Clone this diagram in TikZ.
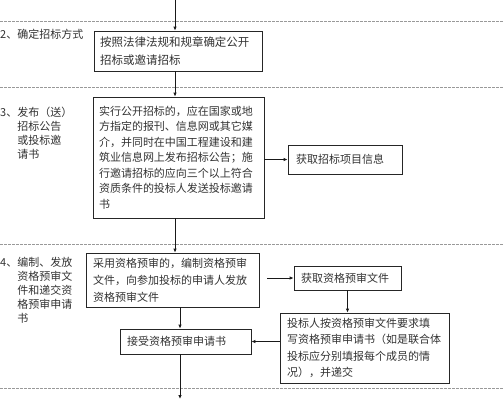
\documentclass[tikz,border=0pt]{standalone}
\usepackage{fontspec}
\newfontfamily\cjk{Noto Sans CJK SC}
\usetikzlibrary{arrows.meta}
\begin{document}
\begin{tikzpicture}[x=1pt,y=-1pt,
  box/.style={draw=black!85, line width=0.8pt, inner xsep=6pt, inner ysep=0pt,
    align=left, text=black!80, font=\cjk\fontsize{11}{15.5}\selectfont},
  lbl/.style={anchor=north west, inner sep=0pt, align=left, text=black!80,
    font=\cjk\fontsize{11}{14.2}\selectfont},
  sep/.style={draw=black!40, line width=0.6pt, dash pattern=on 3pt off 1pt},
  arr/.style={draw=black!90, line width=0.8pt, -{Latex[length=4pt,width=3.5pt]}},
  ln/.style={draw=black!90, line width=0.8pt}]
\useasboundingbox (0,0) rectangle (504,400);
\fill[white] (0,0) rectangle (504,400);

% separators
\draw[sep] (0,21) -- (504,21);
\draw[sep] (0,87) -- (504,87);
\draw[sep] (0,244) -- (504,244);
\draw[sep] (0,388) -- (504,388);

% labels
\node[lbl] (l2) at (0,28.5) {2、确定招标方式};
\node[lbl] (l3) at (0,106.5) {3、发布（送）\\\phantom{3、}招标公告\\\phantom{3、}或投标邀\\\phantom{3、}请书};
\node[lbl] (l4) at (0,256.5) {4、编制、发放\\\phantom{4、}资格预审文\\\phantom{4、}件和递交资\\\phantom{4、}格预审申请\\\phantom{4、}书};

% boxes
\node[box, text width=156pt, minimum height=40pt, font=\cjk\fontsize{11.5}{18}\selectfont] (b1) at (178,51)
  {按照法律法规和规章确定公开\\招标或邀请招标};
\node[box, text width=159pt, minimum height=121pt] (b2) at (178.5,157.5)
  {实行公开招标的，应在国家或地\\方指定的报刊、信息网或其它媒\\介，并同时在中国工程建设和建\\筑业信息网上发布招标公告；施\\行邀请招标的应向三个以上符合\\资质条件的投标人发送投标邀请\\书};
\node[box, minimum height=29pt, inner xsep=8pt, text width=98pt] (b3) at (345,159.5)
  {获取招标项目信息};
\node[box, text width=159pt, minimum height=54pt, inner xsep=7pt, font=\cjk\fontsize{11}{17}\selectfont] (b4) at (172.5,280)
  {采用资格预审的，编制资格预审\\文件，向参加投标的申请人发放\\资格预审文件};
\node[box, text width=93pt, minimum height=24pt, inner xsep=7pt] (b5) at (347.5,278)
  {获取资格预审文件};
\node[box, text width=155pt, minimum height=70pt, inner xsep=7pt, font=\cjk\fontsize{11}{16.5}\selectfont] (b6) at (364.5,348)
  {投标人按资格预审文件要求填\\写资格预审申请书（如是联合体\\投标应分别填报每个成员的情\\况），并递交};
\node[box, text width=117pt, minimum height=25pt, inner xsep=7pt] (b7) at (185.5,341.5)
  {接受资格预审申请书};

% connectors
\coordinate (top) at (175,0);
\coordinate (bot) at (180,399);
\draw[arr] (top) -- (top |- b1.north);
\draw[arr] (top |- b1.south) -- (top |- b2.north);
\draw[arr] (b2.east |- b3.west) -- (b3.west);
\draw[arr] (top |- b2.south) -- (top |- b4.north);
\draw[arr] ([xshift=8pt]b4.east |- b5.west) -- (b5.west);
\draw[arr] (b5.south) -- (b5.south |- b6.north);
\draw[arr] (b6.west |- b7.east) -- (b7.east);
\draw[arr] (bot |- b4.south) -- (bot |- b7.north);
\draw[arr] (bot |- b7.south) -- (bot);
\end{tikzpicture}
\end{document}
